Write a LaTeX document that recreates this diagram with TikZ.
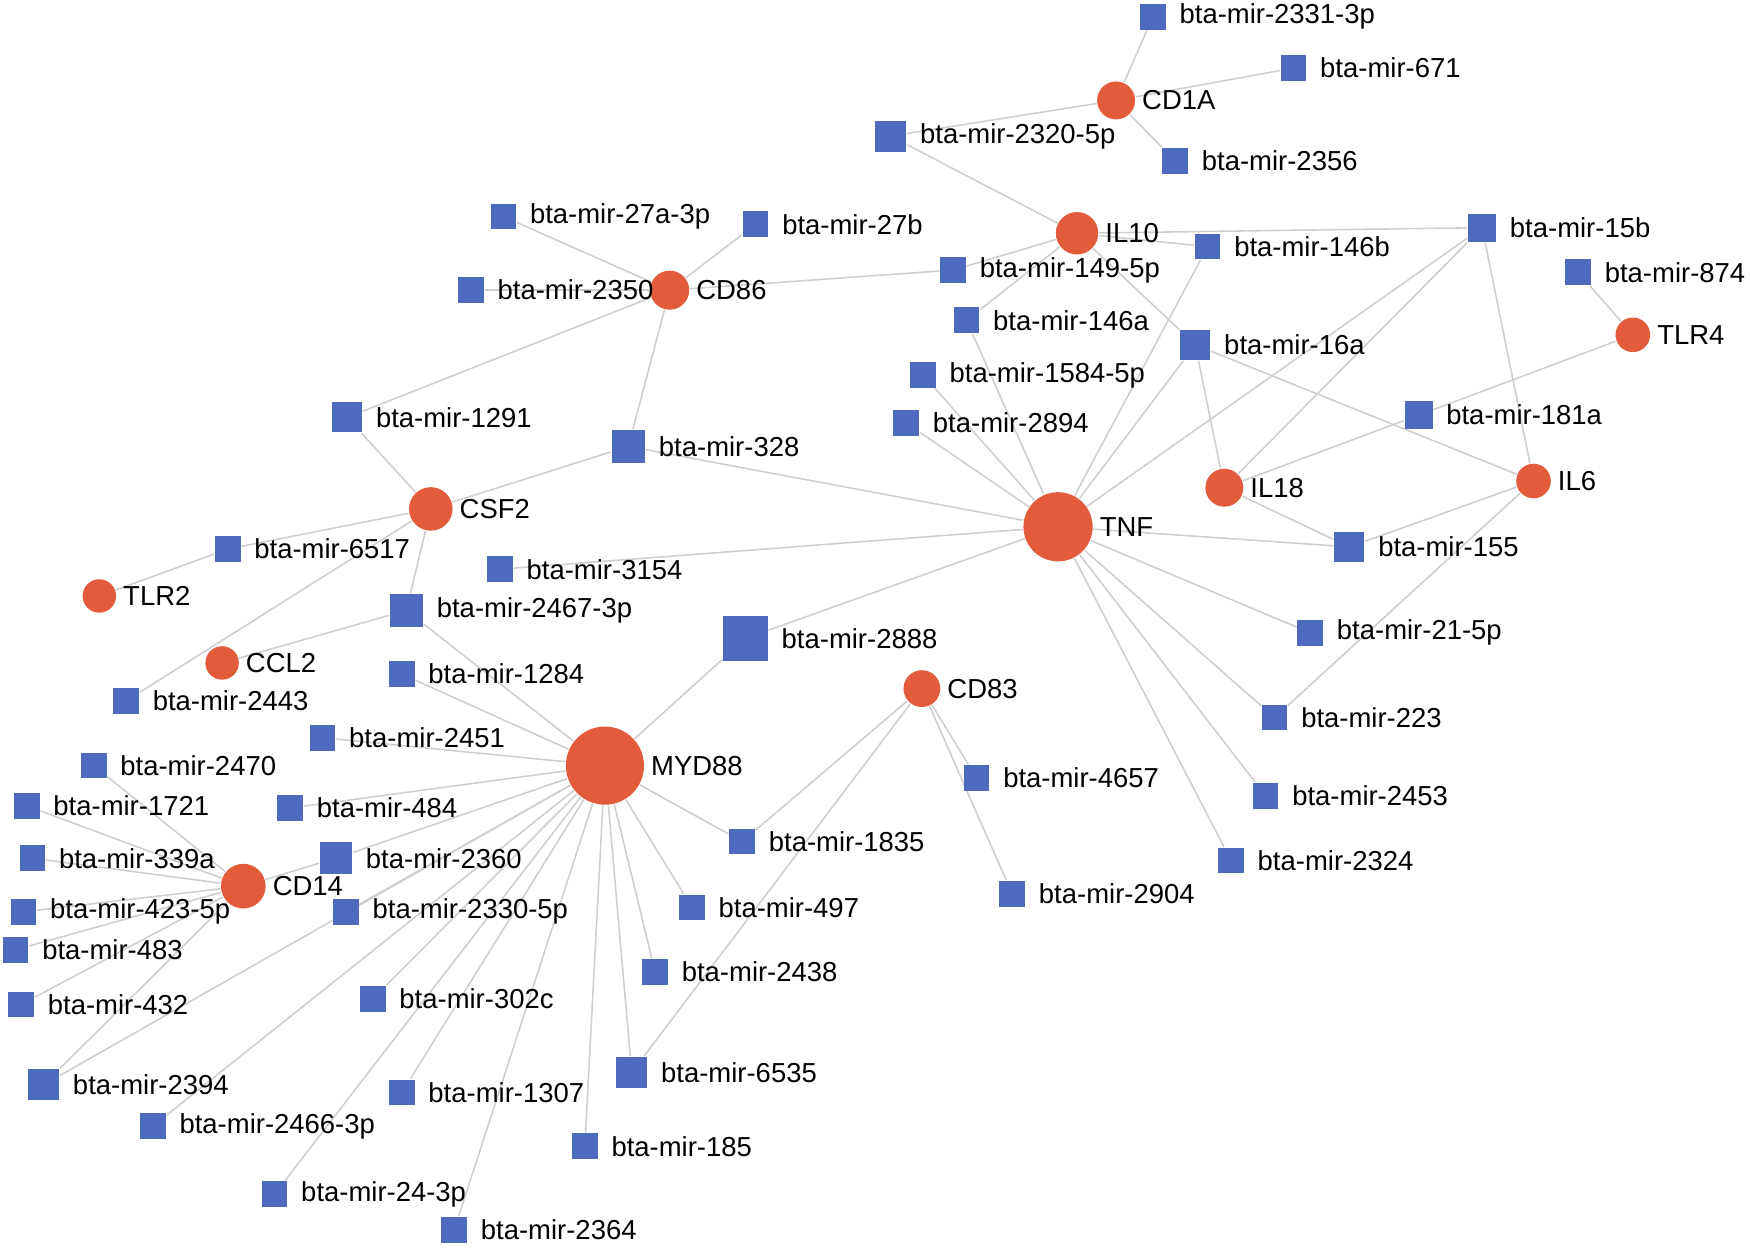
\documentclass[tikz,border=0pt]{standalone}
\usepackage{fontspec}
\setmainfont{Liberation Sans}
\usetikzlibrary{backgrounds}
\definecolor{genered}{RGB}{226,92,60}
\definecolor{mirblue}{RGB}{78,106,190}
\definecolor{linkgray}{RGB}{206,206,206}
\tikzset{
  gene/.style={circle,fill=genered,inner sep=0pt,minimum size=#1},
  mir/.style={rectangle,fill=mirblue,inner sep=0pt,minimum size=#1},
  mir/.default=0.23cm,
  glabel/.style={label={[xshift=0.05cm]right:#1}},
  mlabel/.style={label={[xshift=0.11cm]right:#1}},
  link/.style={linkgray,line width=0.4pt},
  every label/.style={inner sep=0pt,font=\fontsize{7}{8}\selectfont}
}

\begin{document}
\begin{tikzpicture}
\useasboundingbox (0,0) rectangle (15.68,-11.24);

% genes
\node[gene=0.34cm,glabel=CD1A] (CD1A) at (10.00,-0.90) {};
\node[gene=0.38cm,glabel=IL10] (IL10) at (9.65,-2.09) {};
\node[gene=0.35cm,glabel=CD86] (CD86) at (6.00,-2.60) {};
\node[gene=0.31cm,glabel=TLR4] (TLR4) at (14.63,-3.00) {};
\node[gene=0.39cm,glabel=CSF2] (CSF2) at (3.86,-4.56) {};
\node[gene=0.34cm,glabel=IL18] (IL18) at (10.97,-4.37) {};
\node[gene=0.31cm,glabel=IL6] (IL6) at (13.74,-4.31) {};
\node[gene=0.62cm,glabel=TNF] (TNF) at (9.48,-4.72) {};
\node[gene=0.30cm,glabel=TLR2] (TLR2) at (0.89,-5.34) {};
\node[gene=0.30cm,glabel=CCL2] (CCL2) at (1.99,-5.94) {};
\node[gene=0.33cm,glabel=CD83] (CD83) at (8.26,-6.17) {};
\node[gene=0.70cm,glabel=MYD88] (MYD88) at (5.42,-6.86) {};
\node[gene=0.40cm,glabel=CD14] (CD14) at (2.18,-7.94) {};

% miRNAs
\node[mir,mlabel=bta-mir-2331-3p] (mir-2331-3p) at (10.33,-0.15) {};
\node[mir,mlabel=bta-mir-671] (mir-671) at (11.59,-0.61) {};
\node[mir=0.28cm,mlabel=bta-mir-2320-5p] (mir-2320-5p) at (7.98,-1.22) {};
\node[mir,mlabel=bta-mir-2356] (mir-2356) at (10.53,-1.44) {};
\node[mir,mlabel=bta-mir-27a-3p] (mir-27a-3p) at (4.51,-1.94) {};
\node[mir,mlabel=bta-mir-27b] (mir-27b) at (6.77,-2.01) {};
\node[mir,mlabel=bta-mir-146b] (mir-146b) at (10.82,-2.21) {};
\node[mir=0.25cm,mlabel=bta-mir-15b] (mir-15b) at (13.28,-2.04) {};
\node[mir,mlabel=bta-mir-874] (mir-874) at (14.14,-2.44) {};
\node[mir,mlabel=bta-mir-149-5p] (mir-149-5p) at (8.54,-2.42) {};
\node[mir,mlabel=bta-mir-2350] (mir-2350) at (4.22,-2.60) {};
\node[mir,mlabel=bta-mir-146a] (mir-146a) at (8.66,-2.87) {};
\node[mir=0.27cm,mlabel=bta-mir-16a] (mir-16a) at (10.71,-3.09) {};
\node[mir,mlabel=bta-mir-1584-5p] (mir-1584-5p) at (8.27,-3.36) {};
\node[mir,mlabel=bta-mir-2894] (mir-2894) at (8.12,-3.79) {};
\node[mir=0.25cm,mlabel=bta-mir-181a] (mir-181a) at (12.71,-3.72) {};
\node[mir=0.27cm,mlabel=bta-mir-1291] (mir-1291) at (3.11,-3.74) {};
\node[mir=0.30cm,mlabel=bta-mir-328] (mir-328) at (5.63,-4.00) {};
\node[mir=0.27cm,mlabel=bta-mir-155] (mir-155) at (12.09,-4.90) {};
\node[mir,mlabel=bta-mir-6517] (mir-6517) at (2.04,-4.92) {};
\node[mir,mlabel=bta-mir-3154] (mir-3154) at (4.48,-5.10) {};
\node[mir=0.30cm,mlabel=bta-mir-2467-3p] (mir-2467-3p) at (3.64,-5.47) {};
\node[mir=0.40cm,mlabel=bta-mir-2888] (mir-2888) at (6.68,-5.72) {};
\node[mir,mlabel=bta-mir-21-5p] (mir-21-5p) at (11.74,-5.67) {};
\node[mir,mlabel=bta-mir-1284] (mir-1284) at (3.60,-6.04) {};
\node[mir,mlabel=bta-mir-2443] (mir-2443) at (1.13,-6.28) {};
\node[mir,mlabel=bta-mir-223] (mir-223) at (11.42,-6.43) {};
\node[mir,mlabel=bta-mir-2451] (mir-2451) at (2.89,-6.61) {};
\node[mir,mlabel=bta-mir-2470] (mir-2470) at (0.84,-6.86) {};
\node[mir,mlabel=bta-mir-4657] (mir-4657) at (8.75,-6.97) {};
\node[mir,mlabel=bta-mir-2453] (mir-2453) at (11.34,-7.13) {};
\node[mir,mlabel=bta-mir-1721] (mir-1721) at (0.24,-7.22) {};
\node[mir,mlabel=bta-mir-484] (mir-484) at (2.60,-7.24) {};
\node[mir,mlabel=bta-mir-1835] (mir-1835) at (6.65,-7.54) {};
\node[mir,mlabel=bta-mir-339a] (mir-339a) at (0.29,-7.69) {};
\node[mir=0.29cm,mlabel=bta-mir-2360] (mir-2360) at (3.01,-7.69) {};
\node[mir,mlabel=bta-mir-2324] (mir-2324) at (11.03,-7.71) {};
\node[mir,mlabel=bta-mir-2904] (mir-2904) at (9.07,-8.01) {};
\node[mir,mlabel=bta-mir-423-5p] (mir-423-5p) at (0.21,-8.17) {};
\node[mir,mlabel=bta-mir-2330-5p] (mir-2330-5p) at (3.10,-8.17) {};
\node[mir,mlabel=bta-mir-497] (mir-497) at (6.20,-8.13) {};
\node[mir,mlabel=bta-mir-483] (mir-483) at (0.14,-8.51) {};
\node[mir,mlabel=bta-mir-2438] (mir-2438) at (5.87,-8.71) {};
\node[mir,mlabel=bta-mir-432] (mir-432) at (0.19,-9.00) {};
\node[mir,mlabel=bta-mir-302c] (mir-302c) at (3.34,-8.95) {};
\node[mir=0.28cm,mlabel=bta-mir-6535] (mir-6535) at (5.66,-9.61) {};
\node[mir=0.28cm,mlabel=bta-mir-2394] (mir-2394) at (0.39,-9.72) {};
\node[mir,mlabel=bta-mir-1307] (mir-1307) at (3.60,-9.79) {};
\node[mir,mlabel=bta-mir-2466-3p] (mir-2466-3p) at (1.37,-10.09) {};
\node[mir,mlabel=bta-mir-185] (mir-185) at (5.24,-10.27) {};
\node[mir,mlabel=bta-mir-24-3p] (mir-24-3p) at (2.46,-10.70) {};
\node[mir,mlabel=bta-mir-2364] (mir-2364) at (4.07,-11.02) {};

% links
\begin{scope}[on background layer]
\path[link] (CD1A) edge (mir-2331-3p) edge (mir-671) edge (mir-2320-5p) edge (mir-2356);
\path[link] (IL10) edge (mir-2320-5p) edge (mir-149-5p) edge (mir-146a)
     edge (mir-146b) edge (mir-15b) edge (mir-16a);
\path[link] (CD86) edge (mir-27a-3p) edge (mir-27b) edge (mir-2350)
     edge (mir-149-5p) edge (mir-328) edge (mir-1291);
\path[link] (TLR4) edge (mir-874) edge (mir-181a);
\path[link] (CSF2) edge (mir-1291) edge (mir-328) edge (mir-6517)
     edge (mir-2467-3p) edge (mir-2443);
\path[link] (IL18) edge (mir-16a) edge (mir-15b) edge (mir-181a) edge (mir-155);
\path[link] (IL6) edge (mir-15b) edge (mir-16a) edge (mir-155) edge (mir-223);
\path[link] (TNF) edge (mir-328) edge (mir-3154) edge (mir-2888) edge (mir-2894)
     edge (mir-1584-5p) edge (mir-146a) edge (mir-146b) edge (mir-16a)
     edge (mir-15b) edge (mir-155) edge (mir-21-5p) edge (mir-223)
     edge (mir-2453) edge (mir-2324);
\path[link] (TLR2) edge (mir-6517);
\path[link] (CCL2) edge (mir-2467-3p);
\path[link] (CD83) edge (mir-1835) edge (mir-6535) edge (mir-4657) edge (mir-2904);
\path[link] (MYD88) edge (mir-2888) edge (mir-2467-3p) edge (mir-1284)
     edge (mir-2451) edge (mir-484) edge (mir-2360) edge (mir-2330-5p)
     edge (mir-2394) edge (mir-2466-3p) edge (mir-302c) edge (mir-1307)
     edge (mir-24-3p) edge (mir-2364) edge (mir-185) edge (mir-6535)
     edge (mir-2438) edge (mir-497) edge (mir-1835);
\path[link] (CD14) edge (mir-2470) edge (mir-1721) edge (mir-339a)
     edge (mir-423-5p) edge (mir-483) edge (mir-432) edge (mir-2394)
     edge (mir-2360);
\end{scope}
\end{tikzpicture}
\end{document}
